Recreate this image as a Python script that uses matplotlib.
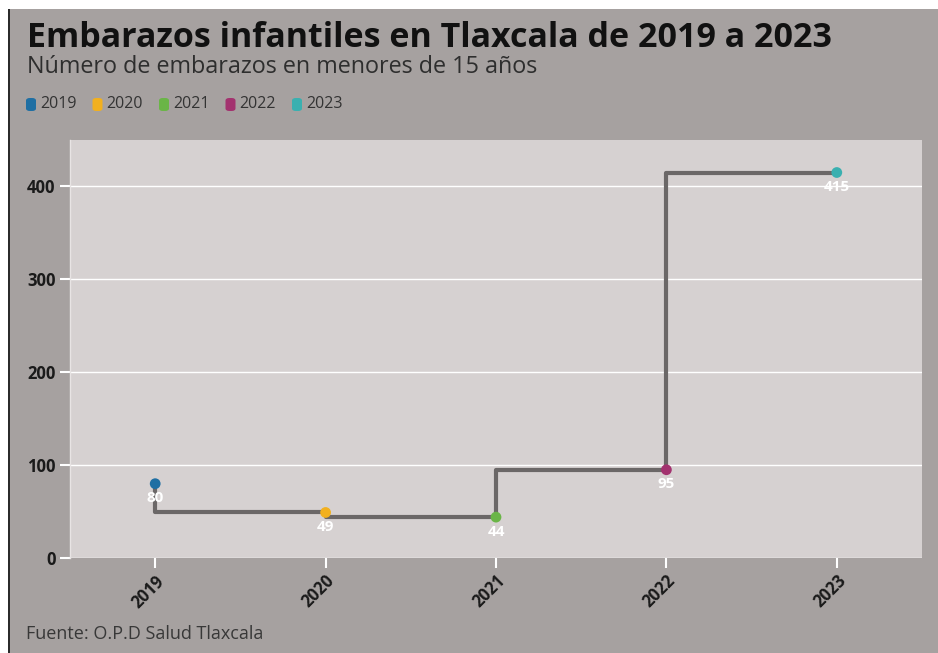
import matplotlib.pyplot as plt
from matplotlib.patches import Rectangle, FancyBboxPatch

years = ['2019', '2020', '2021', '2022', '2023']
embarazos = [80, 49, 44, 95, 415]
colores = ['#1f6fa3', '#f2b01e', '#6ab547', '#a3326f', '#3ab0b0']
yticks = [0, 100, 200, 300, 400]

card_bg = '#a6a1a0'
plot_bg = '#d6d1d1'
plt.rcParams['font.family'] = ['Open Sans', 'DejaVu Sans']

fig = plt.figure(figsize=(9.38, 6.53), dpi=100, facecolor='white')

# tarjeta gris con borde izquierdo oscuro (detras de todo)
fig.patches.append(Rectangle((9 / 938, 0), 1, 1 - 9 / 653, transform=fig.transFigure,
                             facecolor=card_bg, edgecolor='none', zorder=-10))
fig.patches.append(Rectangle((8 / 938, 0), 2 / 938, 1 - 9 / 653, transform=fig.transFigure,
                             facecolor='#2b2b2b', edgecolor='none', zorder=-9))

ax = fig.add_axes([70 / 938, 95 / 653, 852 / 938, 418 / 653])
ax.set_zorder(2)
ax.set_facecolor(plot_bg)
x = list(range(len(years)))
ax.step(x, embarazos, where='pre', color='#6b6767', lw=3, zorder=2)
for i, (v, c) in enumerate(zip(embarazos, colores)):
    ax.scatter(i, v, s=60, color=c, zorder=3, edgecolors='none')
    ax.annotate(str(v), (i, v), xytext=(0, -10.5), textcoords='offset points',
                ha='center', va='center', color='white', fontsize=11, fontweight='bold', zorder=4)

ax.set_xlim(-0.5, len(years) - 0.5)
ax.set_ylim(0, 450)
ax.set_xticks(x)
ax.set_xticklabels(years, rotation=45, ha='right', rotation_mode='anchor',
                   fontsize=12, fontweight='bold', color='#1a1a1a')
ax.set_yticks(yticks)
ax.set_yticklabels([str(t) for t in yticks], fontsize=12, fontweight='bold', color='#1a1a1a')
ax.tick_params(axis='both', color='white', width=1.5, length=7)
ax.tick_params(axis='x', pad=3)
ax.grid(axis='y', color='white', lw=1)
ax.set_axisbelow(True)
for s in ['top', 'right', 'bottom']:
    ax.spines[s].set_visible(False)
ax.spines['left'].set_color('#e8e4e4')
ax.spines['left'].set_linewidth(1)

# titulo y subtitulo
fig.text(27 / 938, 1 - 38 / 653, 'Embarazos infantiles en Tlaxcala de 2019 a 2023',
         fontsize=24.5, fontweight='bold', color='#111111', va='center')
fig.text(27 / 938, 1 - 67 / 653, 'Número de embarazos en menores de 15 años',
         fontsize=16.8, color='#2e2e2e', va='center')

# leyenda manual
lx = 26
for yr, c in zip(years, colores):
    fig.patches.append(FancyBboxPatch((lx / 938, 1 - 111 / 653), 10 / 938, 13 / 653,
                                      boxstyle='round,pad=0,rounding_size=0.004',
                                      transform=fig.transFigure, facecolor=c, edgecolor='none'))
    fig.text((lx + 14) / 938, 1 - 104 / 653, yr, fontsize=11.5, color='#333333', va='center')
    lx += 66.5

fig.text(26 / 938, 1 - 634 / 653, 'Fuente: O.P.D Salud Tlaxcala', fontsize=13,
         color='#383838', va='center')

fig.savefig('out.png', dpi=100, facecolor=fig.get_facecolor())
